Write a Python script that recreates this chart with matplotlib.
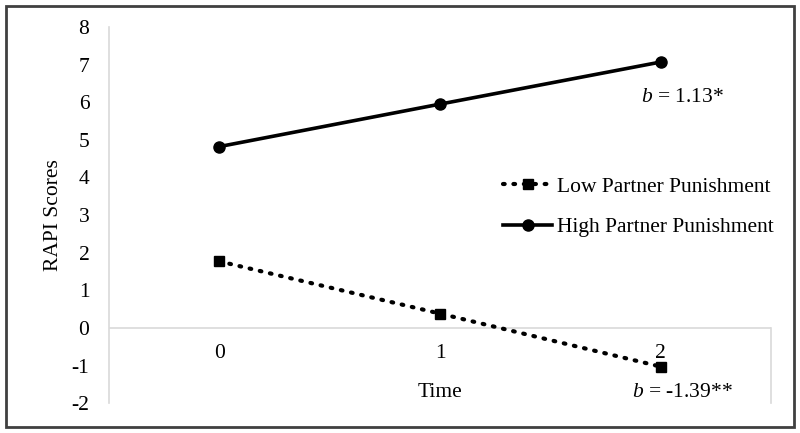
import matplotlib
matplotlib.use("Agg")
import matplotlib.pyplot as plt
from matplotlib.patches import Rectangle

times = ["0", "1", "2"]
low = [1.77, 0.38, -1.03]
high = [4.82, 5.95, 7.07]
yticks = [-2, -1, 0, 1, 2, 3, 4, 5, 6, 7, 8]

plt.rcParams['font.family'] = ['Liberation Serif', 'DejaVu Serif']
plt.rcParams['mathtext.fontset'] = 'custom'
plt.rcParams['mathtext.rm'] = 'Liberation Serif'
plt.rcParams['mathtext.it'] = 'Liberation Serif:italic'
FS = 15.5
fig = plt.figure(figsize=(8, 4.33), dpi=100)
ax = fig.add_axes([0.136, 0.069, 0.828, 0.8686])
x = list(range(len(times)))
ax.plot(x, low, color='black', linestyle=(0, (0.4, 2.1)), linewidth=3.0, dash_capstyle='round',
        marker='s', markersize=7.5, label='Low Partner Punishment')
ax.plot(x, high, color='black', linestyle='-', linewidth=2.6,
        marker='o', markersize=8, label='High Partner Punishment')
ax.set_xlim(-0.5, 2.5)
ax.set_ylim(-2, 8)
ax.set_yticks(yticks)
ax.set_yticklabels([str(v) for v in yticks])
ax.set_xticks([])
for s in ['top', 'right', 'bottom']:
    ax.spines[s].set_visible(False)
ax.spines['left'].set_color('#d9d9d9')
ax.spines['left'].set_linewidth(1.2)
ax.axhline(0, color='#d9d9d9', linewidth=1.2, zorder=0)
ax.plot([2.5, 2.5], [-2, 0], color='#d9d9d9', linewidth=1.2, clip_on=False, zorder=0)
ax.tick_params(axis='y', length=0, pad=14, labelsize=FS)
for i, t in enumerate(times):
    ax.text(i, -0.68, t, ha='center', va='center', fontsize=FS)
ax.text(1, -1.73, 'Time', ha='center', va='center', fontsize=FS)
ax.set_ylabel('RAPI Scores', fontsize=FS, labelpad=6)
ax.text(2.1, 6.12, r'$b$ = 1.13*', ha='center', va='center', fontsize=FS)
ax.text(2.1, -1.73, r'$b$ = -1.39**', ha='center', va='center', fontsize=FS)
ax.legend(loc='center left', bbox_to_anchor=(0.595, 0.522), frameon=False, fontsize=FS,
          handlelength=2.3, handletextpad=0.2, labelspacing=0.95, borderaxespad=0,
          borderpad=0)
fig.patches.append(Rectangle((0.008, 0.014), 0.984, 0.972, transform=fig.transFigure,
                             fill=False, edgecolor='#404040', linewidth=2))
fig.savefig('out.png', dpi=100)
